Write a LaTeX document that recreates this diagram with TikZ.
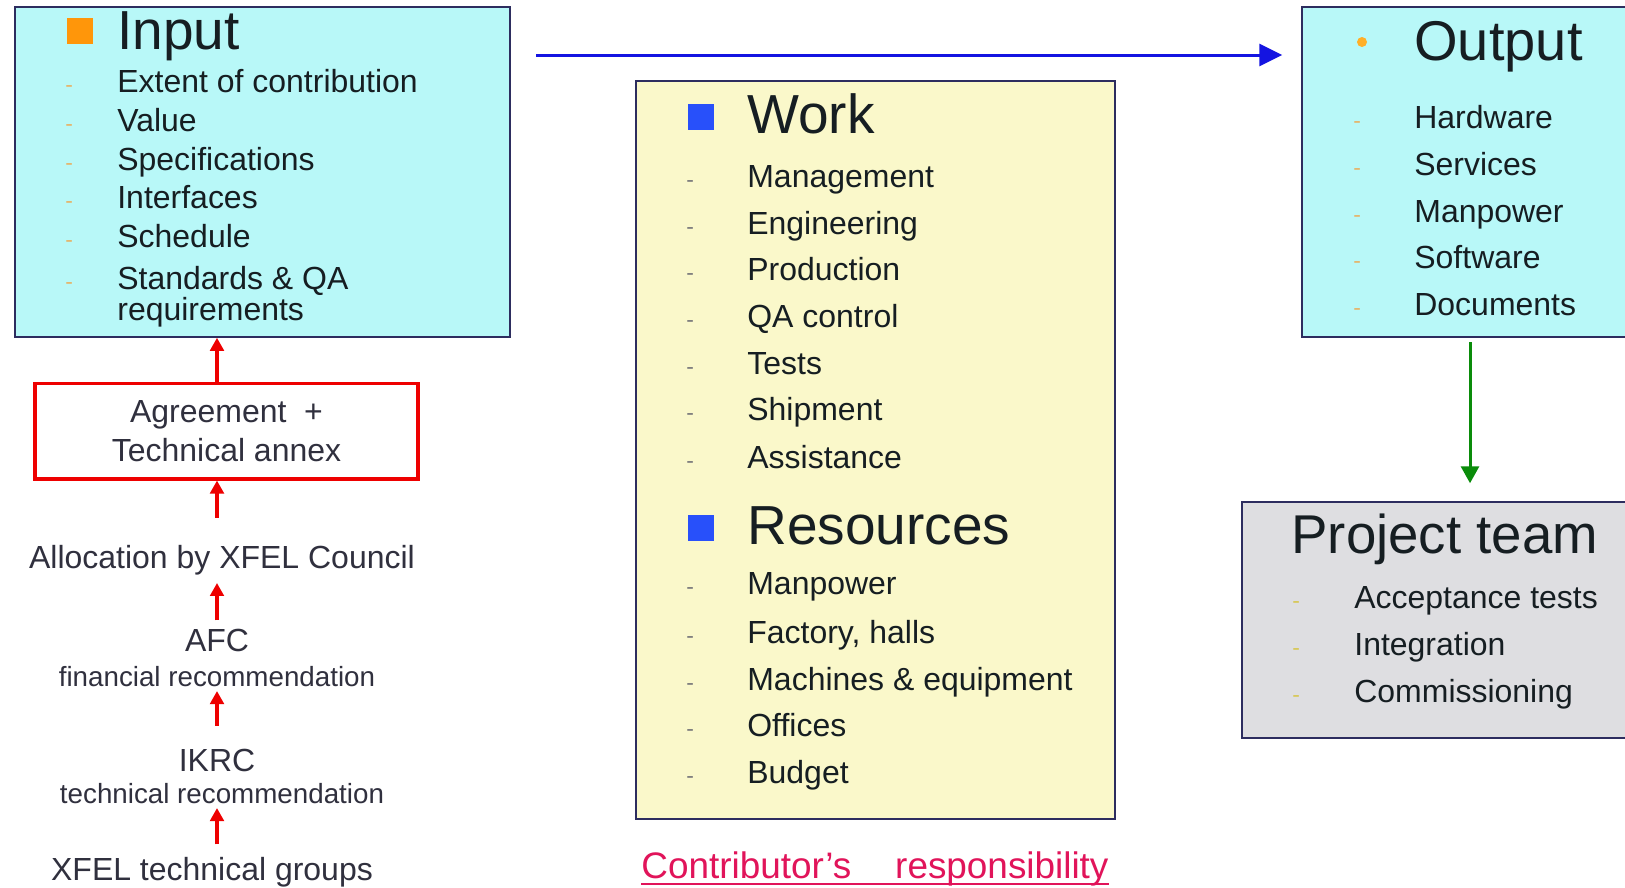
\documentclass[tikz,border=0pt]{standalone}
\usepackage{fontspec}
\setmainfont{Liberation Sans}
\usetikzlibrary{arrows.meta,calc}

\definecolor{cyanbox}{RGB}{184,248,248}
\definecolor{yellowbox}{RGB}{250,248,202}
\definecolor{greybox}{RGB}{222,222,225}
\definecolor{boxline}{RGB}{45,45,95}
\definecolor{ink}{RGB}{22,30,34}
\definecolor{slate}{RGB}{48,48,62}
\definecolor{bulletorange}{RGB}{255,150,10}
\definecolor{bulletblue}{RGB}{40,80,250}
\definecolor{dotorange}{RGB}{255,175,40}
\definecolor{dashtan}{RGB}{228,182,110}
\definecolor{dashgrey}{RGB}{125,125,125}
\definecolor{dashyellow}{RGB}{215,200,90}
\definecolor{arrred}{RGB}{238,0,0}
\definecolor{flowblue}{RGB}{20,20,225}
\definecolor{flowgreen}{RGB}{10,140,10}
\definecolor{crimson}{RGB}{225,20,90}

\begin{document}
\begin{tikzpicture}[
    x=0.02cm, y=-0.02cm,
    box/.style={rectangle, draw=boxline, line width=0.9pt, inner sep=0pt},
    bigtitle/.style={anchor=base west, inner sep=0pt, text=ink, font=\fontsize{31.3}{34}\selectfont},
    item/.style={anchor=base west, inner sep=0pt, text=ink, font=\fontsize{18.2}{20}\selectfont},
    dashmark/.style={anchor=base west, inner sep=0pt, font=\fontsize{13}{13}\selectfont},
    bullet/.style={rectangle, inner sep=0pt, minimum size=0.52cm},
    note/.style={anchor=base, inner sep=0pt, text=slate, font=\fontsize{18.2}{20}\selectfont},
    smallnote/.style={note, font=\fontsize{15.8}{18}\selectfont},
    redarr/.style={-{Triangle[length=0.26cm,width=0.27cm]}, line width=2.2pt, draw=arrred},
    bluearr/.style={-{Triangle[length=0.46cm,width=0.44cm]}, line width=1.7pt, draw=flowblue},
    greenarr/.style={-{Triangle[length=0.34cm,width=0.36cm]}, line width=1.7pt, draw=flowgreen}
]
\useasboundingbox (0,0) rectangle (1625,887);
\clip (0,0) rectangle (1625,887);
\fill[white] (0,0) rectangle (1625,887);

% the four boxes
\node[box, fill=cyanbox, minimum width=9.9cm, minimum height=6.6cm] (input) at (262.5,172) {};
\node[box, fill=yellowbox, minimum width=9.58cm, minimum height=14.76cm] (work) at (875.5,450) {};
\node[box, fill=cyanbox, minimum width=7.96cm, minimum height=6.6cm] (output) at (1501,172) {};
\node[box, fill=greybox, minimum width=9.16cm, minimum height=4.72cm] (team) at (1471,620) {};

% input
\node[bullet, fill=bulletorange] (inputbullet) at (80,31) {};
\node[bigtitle] (inputtitle) at (117,49) {Input};
\foreach \txt/\y [count=\i] in {Extent of contribution/92, Value/131, Specifications/170,
    Interfaces/208, Schedule/247, Standards \& QA/289} {
  \node[item] (in-\i) at (117,\y) {\txt};
  \node[dashmark, text=dashtan] (indash-\i) at (65,\y) {-};
}
\node[item] (in-req) at (117,320) {requirements};

% work and resources
\node[bullet, fill=bulletblue] (workbullet) at (701,117) {};
\node[bigtitle] (worktitle) at (747,133) {Work};
\foreach \txt/\y [count=\i] in {Management/187, Engineering/234, Production/280,
    QA control/327, Tests/374, Shipment/420, Assistance/468} {
  \node[item] (work-\i) at (747,\y) {\txt};
  \node[dashmark, text=dashgrey] (workdash-\i) at (686,\y) {-};
}
\node[bullet, fill=bulletblue] (resbullet) at (701,528) {};
\node[bigtitle] (restitle) at (747,544) {Resources};
\foreach \txt/\y [count=\i] in {Manpower/594, Factory{,} halls/643,
    Machines \& equipment/690, Offices/736, Budget/783} {
  \node[item] (res-\i) at (747,\y) {\txt};
  \node[dashmark, text=dashgrey] (resdash-\i) at (686,\y) {-};
}

% output
\node[circle, fill=dotorange, inner sep=0pt, minimum size=0.2cm] (outputdot) at (1362,42) {};
\node[bigtitle, font=\fontsize{31.9}{34}\selectfont] (outputtitle) at (1414,60) {Output};
\foreach \txt/\y [count=\i] in {Hardware/128, Services/175, Manpower/222,
    Software/268, Documents/315} {
  \node[item] (out-\i) at (1414,\y) {\txt};
  \node[dashmark, text=dashtan] (outdash-\i) at (1353,\y) {-};
}

% project team
\node[bigtitle, font=\fontsize{31.1}{34}\selectfont] (teamtitle) at (1291,553) {Project team};
\foreach \txt/\y [count=\i] in {Acceptance tests/608, Integration/655, Commissioning/702} {
  \node[item] (team-\i) at (1354,\y) {\txt};
  \node[dashmark, text=dashyellow] (teamdash-\i) at (1292,\y) {-};
}

% approval chain
\node[rectangle, draw=arrred, line width=2pt, minimum width=7.66cm, minimum height=1.91cm,
    align=center, text=slate, font=\fontsize{18.2}{22.2}\selectfont] (agree) at (226.5,431)
    {Agreement\ \ +\\Technical annex};
\node[note] (alloc) at (222,568) {Allocation by XFEL Council};
\node[note] (afc) at (217,651) {AFC};
\node[smallnote] (afcnote) at (217,686) {financial recommendation};
\node[note] (ikrc) at (217,771) {IKRC};
\node[smallnote] (ikrcnote) at (222,803) {technical recommendation};
\node[note] (groups) at (212,880) {XFEL technical groups};

\draw[redarr, shorten >=0.1cm] ($(groups.north -| afc)+(0,-12)$) -- (ikrcnote.base -| afc);
\draw[redarr, shorten <=0.45cm, shorten >=0.1cm] (ikrc.north -| afc) -- (afcnote.base -| afc);
\draw[redarr, shorten <=0.16cm, shorten >=0.16cm] (afc.north) -- (alloc.south -| afc);
\draw[redarr, shorten <=0.53cm] (alloc.north -| afc) -- (agree.south -| afc);
\draw[redarr] (agree.north -| afc) -- (input.south -| afc);

% flow between boxes
\coordinate (flowstart) at (536,55);
\draw[bluearr, shorten >=0.38cm] (flowstart) -- (flowstart -| output.west);
\coordinate (teamfeed) at (1470,342);
\draw[greenarr, shorten >=0.36cm] (teamfeed) -- (teamfeed |- team.north);

\node[anchor=base, inner sep=0pt, text=crimson, font=\fontsize{21}{24}\selectfont] (resp)
    at (875,878) {Contributor’s\hspace{25pt}responsibility};
\draw[crimson, line width=1.1pt] ($(resp.base west)+(0,6)$) -- ($(resp.base east)+(0,6)$);
\end{tikzpicture}
\end{document}
